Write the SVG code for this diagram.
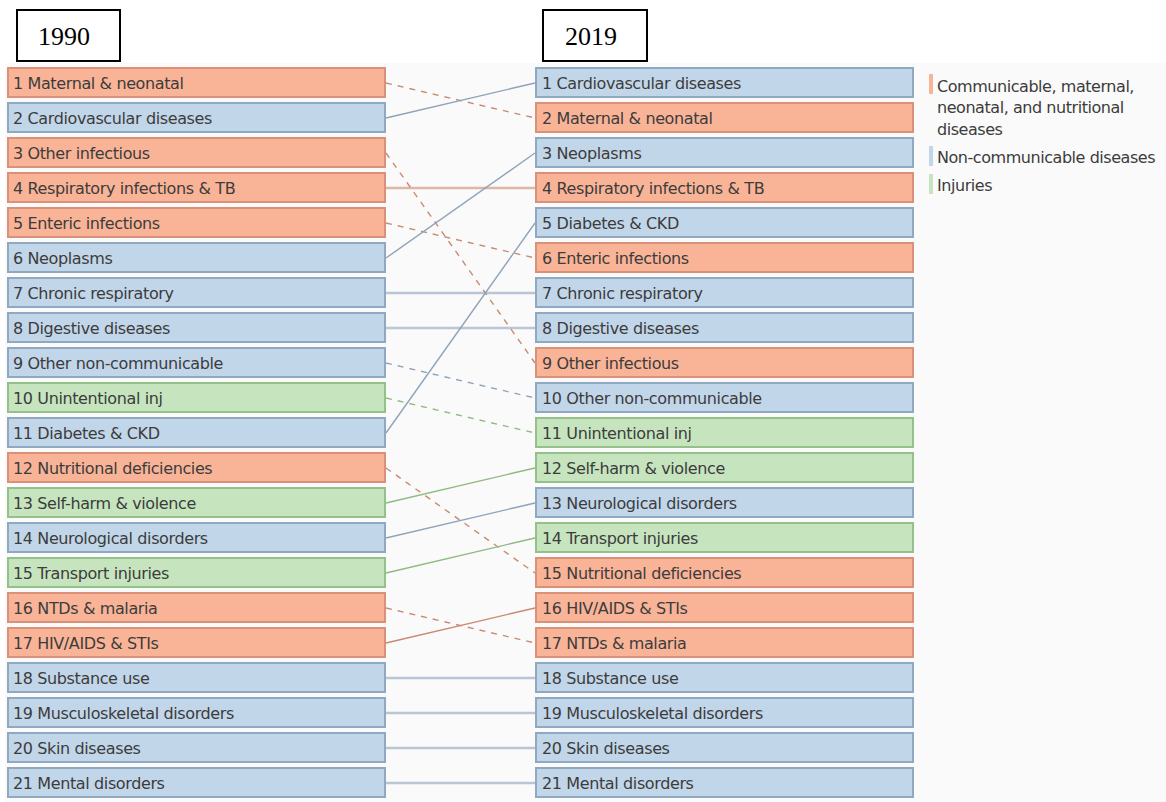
<svg xmlns="http://www.w3.org/2000/svg" width="1166" height="802" viewBox="0 0 1166 802">
  <style>
    .title { font-family: "Liberation Serif", serif; font-size: 26px; fill: #000; }
    .tbox { fill: #fff; stroke: #000; stroke-width: 2; }
    .lbl { font-family: "DejaVu Sans", sans-serif; font-size: 16px; letter-spacing: -0.38px; fill: #3c3c3c; }
    .leg { font-family: "DejaVu Sans", sans-serif; font-size: 16px; letter-spacing: -0.45px; fill: #3c3c3c; }
    .cm rect { fill: #f9b498; stroke: #d9917a; stroke-width: 2; }
    .nc rect { fill: #c2d6ea; stroke: #91a9c0; stroke-width: 2; }
    .in rect { fill: #c6e5bf; stroke: #94c089; stroke-width: 2; }
    .c-cm { stroke: #c98a70; }
    .c-nc { stroke: #8fa3ba; }
    .c-in { stroke: #8fba82; }
    .flat { stroke-width: 2.5; stroke-opacity: 0.6; }
    .diag { stroke-width: 1.4; fill: none; }
    .dash { stroke-dasharray: 6 6; }
  </style>

  <!-- panel background -->
  <rect x="5" y="63" width="1161" height="739" fill="#fafafa"/>

  <!-- year headers -->
  <g id="year-1990">
    <rect class="tbox" x="17" y="10" width="103" height="51"/>
    <text class="title" x="38" y="45">1990</text>
  </g>
  <g id="year-2019">
    <rect class="tbox" x="543" y="10" width="104" height="51"/>
    <text class="title" x="565" y="45">2019</text>
  </g>

  <!-- connectors: right edge of the 1990 column to left edge of the 2019 column -->
  <g id="connectors" fill="none">
    <line class="c-cm diag dash" x1="386" y1="83" x2="535" y2="118"/>
    <line class="c-nc diag" x1="386" y1="118" x2="535" y2="83"/>
    <line class="c-cm diag dash" x1="386" y1="153" x2="535" y2="363"/>
    <line class="c-cm flat" x1="386" y1="188" x2="535" y2="188"/>
    <line class="c-cm diag dash" x1="386" y1="223" x2="535" y2="258"/>
    <line class="c-nc diag" x1="386" y1="258" x2="535" y2="153"/>
    <line class="c-nc flat" x1="386" y1="293" x2="535" y2="293"/>
    <line class="c-nc flat" x1="386" y1="328" x2="535" y2="328"/>
    <line class="c-nc diag dash" x1="386" y1="363" x2="535" y2="398"/>
    <line class="c-in diag dash" x1="386" y1="398" x2="535" y2="433"/>
    <line class="c-nc diag" x1="386" y1="433" x2="535" y2="223"/>
    <line class="c-cm diag dash" x1="386" y1="468" x2="535" y2="573"/>
    <line class="c-in diag" x1="386" y1="503" x2="535" y2="468"/>
    <line class="c-nc diag" x1="386" y1="538" x2="535" y2="503"/>
    <line class="c-in diag" x1="386" y1="573" x2="535" y2="538"/>
    <line class="c-cm diag dash" x1="386" y1="608" x2="535" y2="643"/>
    <line class="c-cm diag" x1="386" y1="643" x2="535" y2="608"/>
    <line class="c-nc flat" x1="386" y1="678" x2="535" y2="678"/>
    <line class="c-nc flat" x1="386" y1="713" x2="535" y2="713"/>
    <line class="c-nc flat" x1="386" y1="748" x2="535" y2="748"/>
    <line class="c-nc flat" x1="386" y1="783" x2="535" y2="783"/>
  </g>

  <!-- 1990 ranking -->
  <g id="l1" class="cm"><rect x="8" y="68" width="377" height="29"/><text class="lbl" x="13" y="89">1 Maternal &amp; neonatal</text></g>
  <g id="l2" class="nc"><rect x="8" y="103" width="377" height="29"/><text class="lbl" x="13" y="124">2 Cardiovascular diseases</text></g>
  <g id="l3" class="cm"><rect x="8" y="138" width="377" height="29"/><text class="lbl" x="13" y="159">3 Other infectious</text></g>
  <g id="l4" class="cm"><rect x="8" y="173" width="377" height="29"/><text class="lbl" x="13" y="194">4 Respiratory infections &amp; TB</text></g>
  <g id="l5" class="cm"><rect x="8" y="208" width="377" height="29"/><text class="lbl" x="13" y="229">5 Enteric infections</text></g>
  <g id="l6" class="nc"><rect x="8" y="243" width="377" height="29"/><text class="lbl" x="13" y="264">6 Neoplasms</text></g>
  <g id="l7" class="nc"><rect x="8" y="278" width="377" height="29"/><text class="lbl" x="13" y="299">7 Chronic respiratory</text></g>
  <g id="l8" class="nc"><rect x="8" y="313" width="377" height="29"/><text class="lbl" x="13" y="334">8 Digestive diseases</text></g>
  <g id="l9" class="nc"><rect x="8" y="348" width="377" height="29"/><text class="lbl" x="13" y="369">9 Other non-communicable</text></g>
  <g id="l10" class="in"><rect x="8" y="383" width="377" height="29"/><text class="lbl" x="13" y="404">10 Unintentional inj</text></g>
  <g id="l11" class="nc"><rect x="8" y="418" width="377" height="29"/><text class="lbl" x="13" y="439">11 Diabetes &amp; CKD</text></g>
  <g id="l12" class="cm"><rect x="8" y="453" width="377" height="29"/><text class="lbl" x="13" y="474">12 Nutritional deficiencies</text></g>
  <g id="l13" class="in"><rect x="8" y="488" width="377" height="29"/><text class="lbl" x="13" y="509">13 Self-harm &amp; violence</text></g>
  <g id="l14" class="nc"><rect x="8" y="523" width="377" height="29"/><text class="lbl" x="13" y="544">14 Neurological disorders</text></g>
  <g id="l15" class="in"><rect x="8" y="558" width="377" height="29"/><text class="lbl" x="13" y="579">15 Transport injuries</text></g>
  <g id="l16" class="cm"><rect x="8" y="593" width="377" height="29"/><text class="lbl" x="13" y="614">16 NTDs &amp; malaria</text></g>
  <g id="l17" class="cm"><rect x="8" y="628" width="377" height="29"/><text class="lbl" x="13" y="649">17 HIV/AIDS &amp; STIs</text></g>
  <g id="l18" class="nc"><rect x="8" y="663" width="377" height="29"/><text class="lbl" x="13" y="684">18 Substance use</text></g>
  <g id="l19" class="nc"><rect x="8" y="698" width="377" height="29"/><text class="lbl" x="13" y="719">19 Musculoskeletal disorders</text></g>
  <g id="l20" class="nc"><rect x="8" y="733" width="377" height="29"/><text class="lbl" x="13" y="754">20 Skin diseases</text></g>
  <g id="l21" class="nc"><rect x="8" y="768" width="377" height="29"/><text class="lbl" x="13" y="789">21 Mental disorders</text></g>

  <!-- 2019 ranking -->
  <g id="r1" class="nc"><rect x="536" y="68" width="377" height="29"/><text class="lbl" x="542" y="89">1 Cardiovascular diseases</text></g>
  <g id="r2" class="cm"><rect x="536" y="103" width="377" height="29"/><text class="lbl" x="542" y="124">2 Maternal &amp; neonatal</text></g>
  <g id="r3" class="nc"><rect x="536" y="138" width="377" height="29"/><text class="lbl" x="542" y="159">3 Neoplasms</text></g>
  <g id="r4" class="cm"><rect x="536" y="173" width="377" height="29"/><text class="lbl" x="542" y="194">4 Respiratory infections &amp; TB</text></g>
  <g id="r5" class="nc"><rect x="536" y="208" width="377" height="29"/><text class="lbl" x="542" y="229">5 Diabetes &amp; CKD</text></g>
  <g id="r6" class="cm"><rect x="536" y="243" width="377" height="29"/><text class="lbl" x="542" y="264">6 Enteric infections</text></g>
  <g id="r7" class="nc"><rect x="536" y="278" width="377" height="29"/><text class="lbl" x="542" y="299">7 Chronic respiratory</text></g>
  <g id="r8" class="nc"><rect x="536" y="313" width="377" height="29"/><text class="lbl" x="542" y="334">8 Digestive diseases</text></g>
  <g id="r9" class="cm"><rect x="536" y="348" width="377" height="29"/><text class="lbl" x="542" y="369">9 Other infectious</text></g>
  <g id="r10" class="nc"><rect x="536" y="383" width="377" height="29"/><text class="lbl" x="542" y="404">10 Other non-communicable</text></g>
  <g id="r11" class="in"><rect x="536" y="418" width="377" height="29"/><text class="lbl" x="542" y="439">11 Unintentional inj</text></g>
  <g id="r12" class="in"><rect x="536" y="453" width="377" height="29"/><text class="lbl" x="542" y="474">12 Self-harm &amp; violence</text></g>
  <g id="r13" class="nc"><rect x="536" y="488" width="377" height="29"/><text class="lbl" x="542" y="509">13 Neurological disorders</text></g>
  <g id="r14" class="in"><rect x="536" y="523" width="377" height="29"/><text class="lbl" x="542" y="544">14 Transport injuries</text></g>
  <g id="r15" class="cm"><rect x="536" y="558" width="377" height="29"/><text class="lbl" x="542" y="579">15 Nutritional deficiencies</text></g>
  <g id="r16" class="cm"><rect x="536" y="593" width="377" height="29"/><text class="lbl" x="542" y="614">16 HIV/AIDS &amp; STIs</text></g>
  <g id="r17" class="cm"><rect x="536" y="628" width="377" height="29"/><text class="lbl" x="542" y="649">17 NTDs &amp; malaria</text></g>
  <g id="r18" class="nc"><rect x="536" y="663" width="377" height="29"/><text class="lbl" x="542" y="684">18 Substance use</text></g>
  <g id="r19" class="nc"><rect x="536" y="698" width="377" height="29"/><text class="lbl" x="542" y="719">19 Musculoskeletal disorders</text></g>
  <g id="r20" class="nc"><rect x="536" y="733" width="377" height="29"/><text class="lbl" x="542" y="754">20 Skin diseases</text></g>
  <g id="r21" class="nc"><rect x="536" y="768" width="377" height="29"/><text class="lbl" x="542" y="789">21 Mental disorders</text></g>

  <!-- legend -->
  <g id="legend">
    <rect x="929" y="74" width="4" height="20" fill="#f9b498"/>
    <text class="leg" x="937" y="92">Communicable, maternal,</text>
    <text class="leg" x="937" y="113">neonatal, and nutritional</text>
    <text class="leg" x="937" y="135">diseases</text>
    <rect x="929" y="146" width="4" height="20" fill="#c2d6ea"/>
    <text class="leg" x="937" y="163">Non-communicable diseases</text>
    <rect x="929" y="174" width="4" height="20" fill="#c6e5bf"/>
    <text class="leg" x="937" y="191">Injuries</text>
  </g>
</svg>
